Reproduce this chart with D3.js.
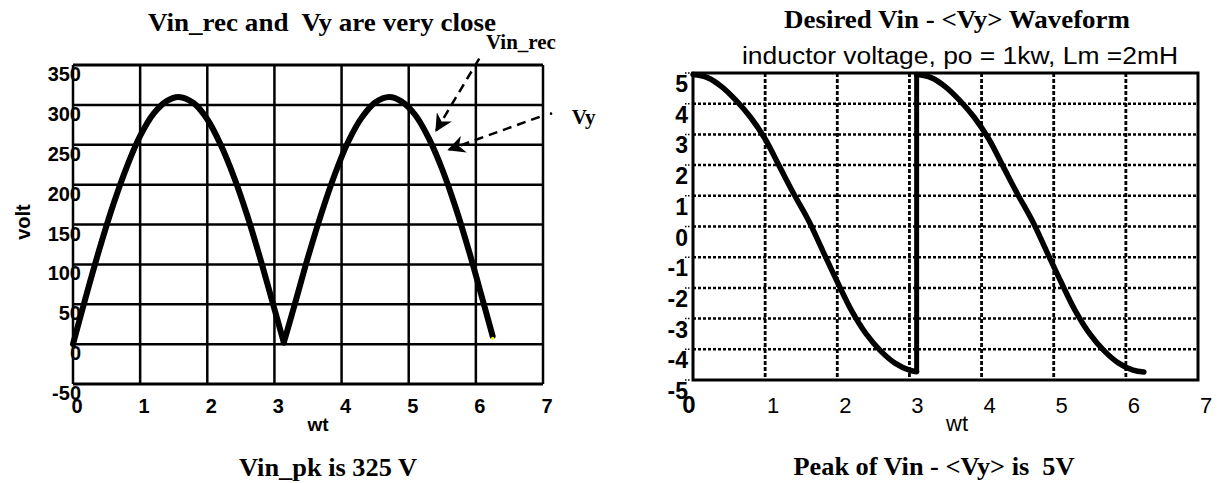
<!DOCTYPE html>
<html>
<head>
<meta charset="utf-8">
<script src="https://cdn.jsdelivr.net/npm/d3@7"></script>
<style>
body { margin: 0; background: #fff; }
</style>
</head>
<body>
<svg id="chart" width="1220" height="483"></svg>
<script>
// left chart: rectified input voltage
var wtRec = [0, 0.2, 0.4, 0.6, 0.8, 1.0, 1.2, 1.4, 1.57, 1.8, 2.0, 2.2, 2.4, 2.6, 2.8, 3.0, 3.14,
             3.3, 3.5, 3.7, 3.9, 4.1, 4.3, 4.5, 4.71, 4.9, 5.1, 5.3, 5.5, 5.7, 5.9, 6.1, 6.25];
var voltRec = [0, 62, 121, 175, 222, 261, 289, 305, 310, 302, 282, 250, 209, 160, 104, 44, 2,
               49, 109, 164, 213, 254, 284, 303, 310, 304, 287, 258, 219, 171, 116, 56, 10];
var recXTicks = [0, 1, 2, 3, 4, 5, 6, 7];
var recYTicks = [-50, 0, 50, 100, 150, 200, 250, 300, 350];

// right chart: Vin - <Vy>, two sweeps with a jump at wt = 3.1
var wtDiff = [0, 0.2, 0.4, 0.6, 0.8, 1.0, 1.2, 1.4, 1.6, 1.8, 2.0, 2.2, 2.4, 2.6, 2.8, 3.0, 3.1,
              3.1, 3.3, 3.5, 3.7, 3.9, 4.1, 4.3, 4.5, 4.7, 4.9, 5.1, 5.3, 5.5, 5.7, 5.9, 6.1, 6.25];
var voltDiff = [4.95, 4.85, 4.55, 4.1, 3.55, 2.85, 1.95, 1.05, 0.2, -0.8, -1.8, -2.75, -3.5, -4.05, -4.45, -4.68, -4.73,
                4.95, 4.85, 4.55, 4.1, 3.55, 2.85, 1.95, 1.05, 0.2, -0.8, -1.8, -2.75, -3.5, -4.05, -4.45, -4.68, -4.74];
var diffXTicks = [0, 1, 2, 3, 4, 5, 6, 7];
var diffYTicks = [-5, -4, -3, -2, -1, 0, 1, 2, 3, 4, 5];

// arrow annotations, in left chart units [wt, volt]
var arrowNotes = [
  { label: "Vin_rec", at: [6.15, 370], from: [6.05, 358], to: [5.41, 268] },
  { label: "Vy", at: [7.43, 276], from: [6.95, 285], to: [5.6, 244], dot: [7.12, 289] }
];

var svg = d3.select("#chart");
var serif = "'Liberation Serif', 'Times New Roman', serif";
var sans = "'Liberation Sans', Arial, sans-serif";

svg.append("defs").append("marker")
  .attr("id", "head")
  .attr("viewBox", "0 0 10 10")
  .attr("refX", 9).attr("refY", 5)
  .attr("markerWidth", 7).attr("markerHeight", 7)
  .attr("markerUnits", "strokeWidth")
  .attr("orient", "auto")
  .append("path")
  .attr("d", "M0,0 L10,5 L0,10 L3,5 Z")
  .attr("fill", "#000");

// splits a series into runs, cutting where cut(i) is true (point i starts a new run, shared if keep)
function runs(xs, ys, cuts) {
  var out = [], cur = [];
  xs.forEach(function(x, i) {
    if (cuts.indexOf(i) >= 0 && cur.length) { out.push(cur); cur = []; }
    cur.push([x, ys[i]]);
  });
  out.push(cur);
  return out;
}

// ---------- left chart ----------
var xL = d3.scaleLinear().domain([0, 7]).range([73, 543]);
var yL = d3.scaleLinear().domain([-50, 350]).range([384, 65]);

var left = svg.append("g");

left.selectAll(".hgrid")
  .data(recYTicks)
  .enter().append("line")
  .attr("x1", xL(0)).attr("x2", xL(7))
  .attr("y1", d => yL(d)).attr("y2", d => yL(d))
  .attr("stroke", "#000")
  .attr("stroke-width", d => (d === 350 || d === -50) ? 3 : 2.5);

left.selectAll(".vgrid")
  .data(recXTicks)
  .enter().append("line")
  .attr("x1", d => xL(d)).attr("x2", d => xL(d))
  .attr("y1", yL(350)).attr("y2", yL(-50))
  .attr("stroke", "#000")
  .attr("stroke-width", 2.5);

left.selectAll(".ylab")
  .data(recYTicks)
  .enter().append("text")
  .attr("x", 81)
  .attr("y", d => yL(d) + 16)
  .attr("text-anchor", "end")
  .attr("font-family", sans).attr("font-weight", "bold").attr("font-size", 20)
  .text(d => d);

left.selectAll(".xlab")
  .data(recXTicks)
  .enter().append("text")
  .attr("x", d => xL(d) + 4)
  .attr("y", 413)
  .attr("text-anchor", "middle")
  .attr("font-family", sans).attr("font-weight", "bold").attr("font-size", 20)
  .text(d => d);

// curve: two humps, sharp at the dip
var dipIdx = voltRec.indexOf(d3.min(voltRec.slice(1, -1)));
var lineL = d3.line().x(d => xL(d[0])).y(d => yL(d[1])).curve(d3.curveCatmullRom);
var humps = [
  wtRec.slice(0, dipIdx + 1).map((w, i) => [w, voltRec[i]]),
  wtRec.slice(dipIdx).map((w, i) => [w, voltRec[dipIdx + i]])
];
left.selectAll(".hump")
  .data(humps)
  .enter().append("path")
  .attr("d", lineL)
  .attr("fill", "none")
  .attr("stroke", "#000")
  .attr("stroke-width", 6)
  .attr("stroke-linejoin", "round")
  .attr("stroke-linecap", "round");

left.append("circle")
  .attr("cx", xL(wtRec[wtRec.length - 1]))
  .attr("cy", yL(voltRec[voltRec.length - 1]) + 2)
  .attr("r", 1.5)
  .attr("fill", "#ff0");

left.append("text")
  .attr("x", 318).attr("y", 431)
  .attr("text-anchor", "middle")
  .attr("font-family", sans).attr("font-weight", "bold").attr("font-size", 19)
  .text("wt");

left.append("text")
  .attr("transform", "translate(30,222) rotate(-90)")
  .attr("text-anchor", "middle")
  .attr("font-family", sans).attr("font-weight", "bold").attr("font-size", 20)
  .text("volt");

left.append("text")
  .attr("x", 322).attr("y", 31)
  .attr("text-anchor", "middle")
  .attr("font-family", serif).attr("font-weight", "bold").attr("font-size", 25)
  .attr("textLength", 348).attr("lengthAdjust", "spacingAndGlyphs")
  .text("Vin_rec and\u00a0 Vy are very close");

left.append("text")
  .attr("x", 328).attr("y", 476)
  .attr("text-anchor", "middle")
  .attr("font-family", serif).attr("font-weight", "bold").attr("font-size", 26)
  .attr("textLength", 178).attr("lengthAdjust", "spacingAndGlyphs")
  .text("Vin_pk is 325 V");

arrowNotes.forEach(function(a) {
  left.append("line")
    .attr("x1", xL(a.from[0])).attr("y1", yL(a.from[1]))
    .attr("x2", xL(a.to[0])).attr("y2", yL(a.to[1]))
    .attr("stroke", "#000")
    .attr("stroke-width", 2.5)
    .attr("stroke-dasharray", "9,6")
    .attr("marker-end", "url(#head)");
  if (a.dot) {
    left.append("circle")
      .attr("cx", xL(a.dot[0])).attr("cy", yL(a.dot[1]))
      .attr("r", 1.3).attr("fill", "#000");
  }
  left.append("text")
    .attr("x", xL(a.at[0])).attr("y", yL(a.at[1]))
    .attr("font-family", serif).attr("font-weight", "bold").attr("font-size", 21)
    .text(a.label);
});

// ---------- right chart ----------
var xR = d3.scaleLinear().domain([0, 7]).range([693, 1198]);
var yR = d3.scaleLinear().domain([-5, 5]).range([380, 73]);

var right = svg.append("g");

right.selectAll(".hgrid")
  .data(diffYTicks.filter(d => d > -5 && d < 5))
  .enter().append("line")
  .attr("x1", xR(0)).attr("x2", xR(7))
  .attr("y1", d => yR(d)).attr("y2", d => yR(d))
  .attr("stroke", "#000")
  .attr("stroke-width", 2.5)
  .attr("stroke-dasharray", "3,2");

right.selectAll(".vgrid")
  .data(diffXTicks.filter(d => d > 0 && d < 7))
  .enter().append("line")
  .attr("x1", d => xR(d)).attr("x2", d => xR(d))
  .attr("y1", yR(5)).attr("y2", yR(-5))
  .attr("stroke", "#000")
  .attr("stroke-width", 2.8)
  .attr("stroke-dasharray", "4,2");

// little dotted ticks left of the axis
right.selectAll(".ytick")
  .data(diffYTicks)
  .enter().append("line")
  .attr("x1", xR(0) - 8).attr("x2", xR(0) - 3)
  .attr("y1", d => yR(d)).attr("y2", d => yR(d))
  .attr("stroke", "#000")
  .attr("stroke-width", 1.5)
  .attr("stroke-dasharray", "1.5,1.5");

right.append("rect")
  .attr("x", xR(0)).attr("y", yR(5))
  .attr("width", xR(7) - xR(0)).attr("height", yR(-5) - yR(5))
  .attr("fill", "none")
  .attr("stroke", "#000")
  .attr("stroke-width", 3);

right.selectAll(".ylab")
  .data(diffYTicks)
  .enter().append("text")
  .attr("x", 688)
  .attr("y", d => yR(d) + 19)
  .attr("text-anchor", "end")
  .attr("font-family", sans).attr("font-weight", "bold").attr("font-size", 23)
  .text(d => d);

right.selectAll(".xlab")
  .data(diffXTicks)
  .enter().append("text")
  .attr("x", d => xR(d) + (d === 0 ? -4 : 8))
  .attr("y", 413)
  .attr("text-anchor", "middle")
  .attr("font-family", sans)
  .attr("font-weight", d => d === 0 ? "bold" : "normal")
  .attr("font-size", d => d === 0 ? 24 : 22)
  .text(d => d);

// two smooth sweeps plus the vertical jump between them
var jumpIdx = 17;
var sweeps = runs(wtDiff, voltDiff, [jumpIdx]);
var lineR = d3.line().x(d => xR(d[0])).y(d => yR(d[1])).curve(d3.curveCatmullRom);
right.selectAll(".sweep")
  .data(sweeps)
  .enter().append("path")
  .attr("d", lineR)
  .attr("fill", "none")
  .attr("stroke", "#000")
  .attr("stroke-width", 5.5)
  .attr("stroke-linecap", "round");

right.append("line")
  .attr("x1", xR(wtDiff[jumpIdx - 1])).attr("y1", yR(voltDiff[jumpIdx - 1]))
  .attr("x2", xR(wtDiff[jumpIdx])).attr("y2", yR(voltDiff[jumpIdx]))
  .attr("stroke", "#000")
  .attr("stroke-width", 5);

right.append("text")
  .attr("x", 957).attr("y", 431)
  .attr("text-anchor", "middle")
  .attr("font-family", sans).attr("font-size", 22)
  .text("wt");

right.append("text")
  .attr("x", 957).attr("y", 28)
  .attr("text-anchor", "middle")
  .attr("font-family", serif).attr("font-weight", "bold").attr("font-size", 25)
  .attr("textLength", 346).attr("lengthAdjust", "spacingAndGlyphs")
  .text("Desired Vin - <Vy> Waveform");

right.append("text")
  .attr("x", 960).attr("y", 64)
  .attr("text-anchor", "middle")
  .attr("font-family", sans).attr("font-size", 23)
  .attr("textLength", 436).attr("lengthAdjust", "spacingAndGlyphs")
  .text("inductor voltage, po = 1kw, Lm =2mH");

right.append("text")
  .attr("x", 934).attr("y", 475)
  .attr("text-anchor", "middle")
  .attr("font-family", serif).attr("font-weight", "bold").attr("font-size", 26)
  .attr("textLength", 281).attr("lengthAdjust", "spacingAndGlyphs")
  .text("Peak of Vin - <Vy> is\u00a0 5V");
</script>
</body>
</html>
